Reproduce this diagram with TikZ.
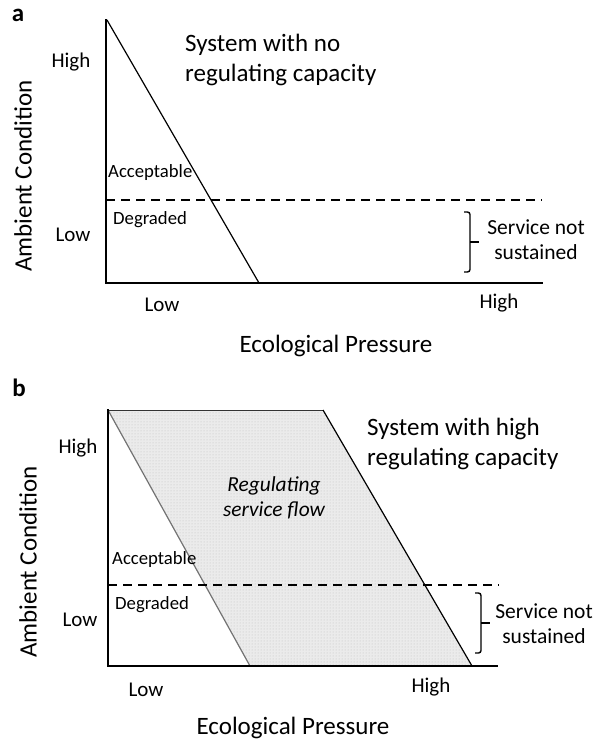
\documentclass[tikz,border=0pt]{standalone}
\usepackage{fontspec}
\setmainfont{Carlito}
\usetikzlibrary{patterns}

\tikzset{
  axisline/.style={line width=2.1pt, line cap=rect},
  curveline/.style={line width=1.2pt},
  threshold/.style={line width=1.4pt, dash pattern=on 9pt off 6pt},
  bracketline/.style={line width=1.4pt, rounded corners=2.5pt},
  svcbracket/.pic={
    \draw[bracketline] (0,0) -- (6,0) -- (6,60) -- (0,60);
    \draw[line width=1.4pt] (6,30) -- (15,30);
  },
  panel/.style={font=\bfseries\fontsize{25}{28}\selectfont, inner sep=0pt},
  axistitle/.style={font=\fontsize{25}{30}\selectfont, inner sep=0pt},
  systitle/.style={font=\fontsize{25}{29.5}\selectfont, inner sep=0pt, align=left, anchor=west},
  tick/.style={font=\fontsize{21}{25}\selectfont, inner sep=0pt},
  zone/.style={font=\fontsize{18.7}{22}\selectfont, inner sep=0pt},
  note/.style={font=\fontsize{21.5}{25}\selectfont, inner sep=0pt, align=center},
  flowtext/.style={font=\itshape\fontsize{21.4}{25}\selectfont, inner sep=0pt, align=center},
  flowfill/.style={fill=black!8},
  flowdots/.style={pattern=dots, pattern color=black!25},
}

\begin{document}
\begin{tikzpicture}[x=1pt, y=-1pt]
\useasboundingbox (0,0) rectangle (595,743);

% ---------- panel a: no regulating capacity ----------
\node[panel] (pa) at (18,15) {a};

\coordinate (aTop) at (106,20);
\coordinate (aOrig) at (106,283);
\coordinate (aEnd) at (542,283);
\coordinate (aLineTop) at (107,20);
\coordinate (aLineBot) at (259,283);
\coordinate (aThrL) at (106,200);
\coordinate (aThrR) at (542,200);
\coordinate (aBr) at (464,212);

\draw[curveline] (aLineTop) -- (aLineBot);
\draw[threshold] (aThrL) -- (aThrR);
\draw[axisline] (aTop) -- (aOrig) -- (aEnd);
\pic at (aBr) {svcbracket};

\node[axistitle, rotate=90] (aYt) at (23,176) {Ambient Condition};
\node[tick] (aYhi) at (71,62) {High};
\node[tick] (aYlo) at (73,235) {Low};
\node[zone, anchor=west] (aAcc) at (108,173) {Acceptable};
\node[zone, anchor=west] (aDeg) at (113,220) {Degraded};
\node[systitle] (aSys) at (185,60) {System with no\\regulating capacity};
\node[note] (aSvc) at (536,240) {Service not\\sustained};
\node[tick] (aXlo) at (162,305) {Low};
\node[tick] (aXhi) at (499,303) {High};
\node[axistitle] (aXt) at (336,346) {Ecological Pressure};

% ---------- panel b: high regulating capacity ----------
\node[panel] (pb) at (19,388) {b};

\coordinate (bTop) at (108,410);
\coordinate (bOrig) at (108,666);
\coordinate (bEnd) at (497,666);
\coordinate (bTopR) at (323,410);
\coordinate (bLeftBot) at (250,666);
\coordinate (bRightBot) at (472,666);
\coordinate (bThrL) at (108,585);
\coordinate (bThrR) at (499,585);
\coordinate (bBr) at (475,593);

\fill[flowfill] (bTop) -- (bTopR) -- (bRightBot) -- (bLeftBot) -- cycle;
\fill[flowdots] (bTop) -- (bTopR) -- (bRightBot) -- (bLeftBot) -- cycle;
\draw[curveline, black!55] (bTop) -- (bLeftBot);
\draw[line width=1pt, black!80] (bTop) -- (bTopR);
\draw[curveline] (bTopR) -- (bRightBot);
\draw[threshold] (bThrL) -- (bThrR);
\draw[axisline] (bTop) -- (bOrig) -- (bEnd);
\pic at (bBr) {svcbracket};

\node[axistitle, rotate=90] (bYt) at (28,562) {Ambient Condition};
\node[tick] (bYhi) at (78,448) {High};
\node[tick] (bYlo) at (80,620) {Low};
\node[zone, anchor=west] (bAcc) at (112,560) {Acceptable};
\node[zone, anchor=west] (bDeg) at (115,605) {Degraded};
\node[flowtext] (bFlow) at (274,497.5) {Regulating\\service flow};
\node[systitle] (bSys) at (367,444) {System with high\\regulating capacity};
\node[note] (bSvc) at (544,623.5) {Service not\\sustained};
\node[tick] (bXlo) at (146,690) {Low};
\node[tick] (bXhi) at (431,687) {High};
\node[axistitle] (bXt) at (293,728) {Ecological Pressure};

\end{tikzpicture}
\end{document}
